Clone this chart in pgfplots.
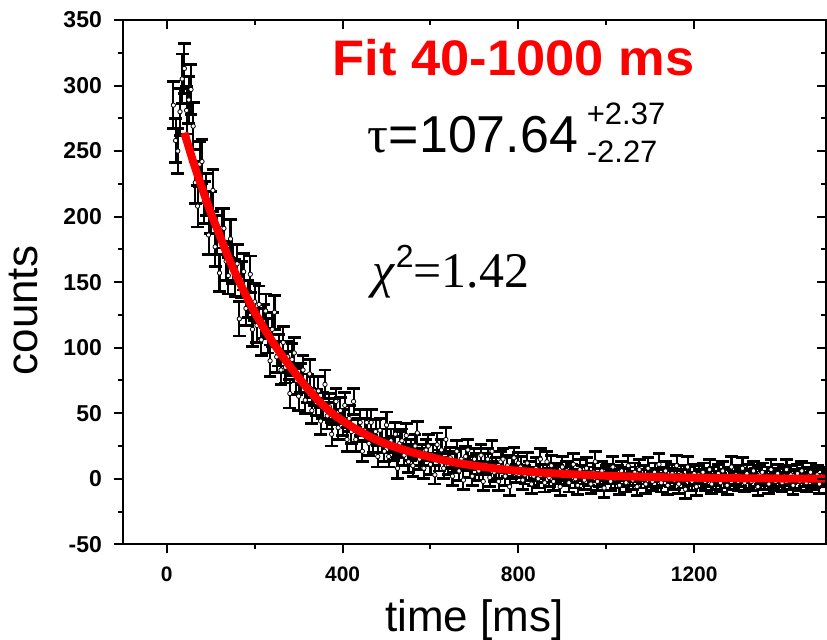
\documentclass[border=0pt]{standalone}
\usepackage{pgfplots}
\pgfplotsset{compat=1.18}
\usepackage{pgfplotstable}
\usepackage{fontspec}
\setmainfont{Liberation Sans}
\newfontfamily\timesf{Liberation Serif}

% binned counts: time [ms], counts, error
\pgfplotstableread{
t y e
15 285 18
20 258 17
25 250 17
30 280 18
35 305 19
40 313 19
45 281 18
50 289 18
55 297 19
60 269 18
65 226 16
70 208 16
75 240 17
80 242 17
85 211 16
90 217 16
95 186 15
100 203 16
105 220 16
110 177 15
115 186 15
120 157 14
125 191 15
130 191 15
135 166 15
140 155 14
145 183 15
150 164 15
155 153 14
160 164 15
165 122 13
170 152 14
175 158 14
180 130 13
185 137 14
190 156 14
195 114 13
200 135 14
205 117 13
210 133 14
215 106 12
220 120 13
225 128 13
230 109 13
235 90 12
240 114 13
245 127 13
250 93 12
255 98 12
260 83 11
265 104 12
270 85 12
275 93 12
280 65 11
285 91 12
290 96 12
295 75 11
300 63 11
305 77 11
310 83 11
315 60 10
320 69 11
325 80 11
330 52 10
335 67 11
340 58 10
345 67 11
350 44 10
355 56 10
360 72 11
365 48 10
370 55 10
375 34 9
380 51 10
385 59 10
390 39 9
395 52 10
400 43 10
405 56 10
410 30 9
415 46 10
420 36 9
425 59 10
430 30 9
435 37 9
440 43 10
445 21 8
450 37 9
455 43 10
460 27 9
465 43 10
470 29 9
475 36 9
480 17 8
485 37 9
490 29 9
495 21 8
500 41 10
505 17 8
510 29 9
515 23 9
520 34 9
525 8 8
530 27 9
535 29 9
540 18 8
545 33 9
550 13 8
555 22 8
560 10 8
565 25 9
570 35 9
575 15 8
580 18 8
585 8 8
590 22 8
595 25 9
600 11 8
605 18 8
610 3 7
615 26 9
620 14 8
625 22 8
630 8 8
635 30 9
640 11 8
645 16 8
650 2 7
655 13 8
660 21 8
665 6 7
670 15 8
675 -1 7
680 17 8
685 22 8
690 9 8
695 2 7
700 15 8
705 11 8
710 6 7
715 18 8
720 -2 7
725 11 8
730 15 8
735 1 7
740 21 8
745 5 7
750 8 8
755 -2 7
760 13 8
765 15 8
770 2 7
775 10 8
780 -6 7
785 8 8
790 16 8
795 4 7
800 12 8
805 9 8
810 -1 7
815 3 7
820 12 8
825 6 7
830 -4 7
835 2 7
840 8 8
845 0 7
850 15 8
855 4 7
860 -3 7
865 13 8
870 1 7
875 10 8
880 -2 7
885 5 7
890 3 7
895 -6 7
900 9 8
905 2 7
910 6 7
915 -3 7
920 4 7
925 11 8
930 0 7
935 -5 7
940 7 8
945 3 7
950 -1 7
955 8 8
960 2 7
965 -4 7
970 5 7
975 13 8
980 -2 7
985 1 7
990 6 7
995 -7 7
1000 3 7
1005 4 7
1010 -2 7
1015 9 8
1020 0 7
1025 3 7
1030 -5 7
1035 6 7
1040 1 7
1045 -3 7
1050 10 8
1055 2 7
1060 -1 7
1065 5 7
1070 -6 7
1075 7 8
1080 0 7
1085 3 7
1090 -4 7
1095 8 8
1100 1 7
1105 -2 7
1110 5 7
1115 0 7
1120 11 8
1125 -3 7
1130 2 7
1135 6 7
1140 -5 7
1145 1 7
1150 4 7
1155 -1 7
1160 10 8
1165 -4 7
1170 3 7
1175 0 7
1180 -8 7
1185 9 8
1190 2 7
1195 -2 7
1200 4 7
1205 -6 7
1210 3 7
1215 0 7
1220 5 7
1225 -2 7
1230 1 7
1235 7 8
1240 -4 7
1245 2 7
1250 -1 7
1255 4 7
1260 -3 7
1265 6 7
1270 0 7
1275 -5 7
1280 2 7
1285 9 8
1290 -1 7
1295 3 7
1300 -2 7
1305 1 7
1310 8 8
1315 -3 7
1320 4 7
1325 0 7
1330 -2 7
1335 6 7
1340 1 7
1345 -6 7
1350 3 7
1355 5 7
1360 -1 7
1365 2 7
1370 -4 7
1375 7 8
1380 0 7
1385 -2 7
1390 4 7
1395 1 7
1400 -3 7
1405 2 7
1410 7 8
1415 -1 7
1420 3 7
1425 -5 7
1430 0 7
1435 4 7
1440 -2 7
1445 6 7
1450 1 7
1455 -3 7
1460 2 7
1465 5 7
1470 -1 7
1475 0 7
1480 3 7
1485 -4 7
1490 2 7
1495 1 7
}\counts

\begin{document}
\begin{tikzpicture}
\pgfplotsset{
  every axis/.append style={
    scale only axis, width=352pt, height=262.5pt,
    xmin=-100, xmax=1500, ymin=-50, ymax=350,
    xtick={0,400,800,1200}, ytick={-50,0,50,100,150,200,250,300,350},
    minor x tick num=1, minor y tick num=1,
    axis line style={line width=1pt},
    every tick/.style={black, line width=1pt},
    major tick length=4.5pt, minor tick length=2.5pt,
  },
}
\begin{axis}[
  clip marker paths=true,
  tick align=outside,
  xtick pos=left, ytick pos=left,
  xticklabels={0,400,800,1200},
  yticklabels={-50,0,50,100,150,200,250,300,350},
  yticklabel style={font=\bfseries\fontsize{11.5}{12}\selectfont, xshift=-2.5pt},
  xticklabel style={font=\bfseries\fontsize{10.5}{12}\selectfont, yshift=-3pt},
  xlabel={time [ms]},
  ylabel={counts},
  xlabel style={font=\fontsize{22}{24}\selectfont, at={(rel axis cs:0.5,0)}, anchor=base, yshift=-43.5pt},
  ylabel style={font=\fontsize{22}{24}\selectfont, at={(axis description cs:-0.1406,0.4457)}, anchor=center},
]
\coordinate (sw) at (rel axis cs:0,0);
\coordinate (ne) at (rel axis cs:1,1);

\addplot[only marks, mark=*, mark size=1.1pt,
  mark options={fill=white, draw=black, line width=0.4pt},
  error bars/.cd, y dir=both, y explicit,
  error bar style={line width=1.05pt, black},
  error mark options={rotate=90, mark size=3.2pt, line width=1.4pt, black}]
  table[x=t, y=y, y error=e] {\counts};

% exponential fit, 40-1000 ms
\addplot[red, line width=4pt, smooth, no markers] coordinates {
  (40,264) (60,242) (80,222) (100,203) (120,186) (140,169) (160,154)
  (180,140) (200,127) (230,110) (260,95) (290,81.5) (320,69) (350,58)
  (380,49) (420,40) (460,32.5) (500,26.5) (550,21) (600,16.5) (650,12.8)
  (700,10) (750,7.8) (800,6.1) (850,4.8) (900,3.8) (1000,2.3) (1100,1.4)
  (1200,0.8) (1350,0.3) (1500,0.1) };

\node[red, anchor=base west, inner sep=0, font=\bfseries\fontsize{25}{25}\selectfont]
  at (axis cs:377,307.3) {\scalebox{1.05}[1]{Fit 40-1000 ms}};
\node[anchor=base west, inner sep=0, font=\fontsize{26}{26}\selectfont]
  at (axis cs:456.8,248.7) {{\timesf τ}=107.64};
\node[anchor=base west, inner sep=0, font=\fontsize{15.5}{15}\selectfont]
  at (axis cs:955,270) {+2.37};
\node[anchor=base west, inner sep=0, font=\fontsize{15.5}{15}\selectfont]
  at (axis cs:955,241) {-2.27};
\node[anchor=base west, inner sep=0, font=\timesf\fontsize{25}{25}\selectfont]
  at (axis cs:468,145.8) {\textit{χ}\raisebox{10pt}{\fontspec{Liberation Sans}\fontsize{16}{16}\selectfont 2}=1.42};
\end{axis}

\begin{axis}[
  tick align=inside,
  xtick pos=right, ytick pos=right,
  xticklabels={}, yticklabels={},
]
\end{axis}

\pgfresetboundingbox
\path[use as bounding box] ([shift={(-61.5pt,-47.5pt)}]sw) rectangle ([shift={(0.5pt,10pt)}]ne);
\end{tikzpicture}
\end{document}
